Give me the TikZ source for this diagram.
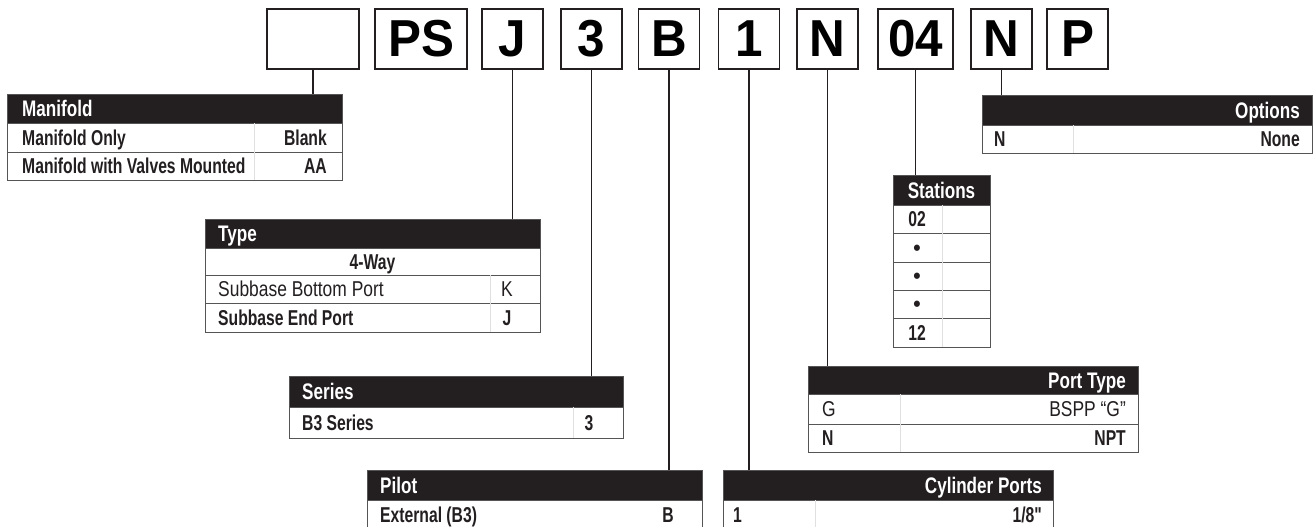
\documentclass[tikz,border=0pt]{standalone}
\usepackage{fontspec}
\setmainfont{Liberation Sans}
\newfontfamily\cnd{Liberation Sans}[FakeStretch=0.73]
\newfontfamily\cndh{Liberation Sans}[FakeStretch=0.76]
\newfontfamily\cndr{Liberation Sans}[FakeStretch=0.81]
\newfontfamily\bigf{Liberation Sans}[FakeStretch=0.95]
\definecolor{hdrblack}{HTML}{231F20}
\definecolor{rulegray}{HTML}{555555}
\begin{document}
\begin{tikzpicture}[x=1pt,y=-1pt,
  topbox/.style={draw=hdrblack, line width=1.3pt, minimum height=60pt, inner sep=0pt, font=\bigf\bfseries\fontsize{52}{52}\selectfont},
  stem/.style={line width=1.5pt, draw=hdrblack},
  cellbox/.style={draw=rulegray, line width=0.9pt, fill=white, anchor=north west, inner sep=0pt},
  hdrbox/.style={fill=hdrblack, draw=rulegray, line width=0.9pt, anchor=north west, inner sep=0pt},
  txt/.style={inner sep=0pt, text=hdrblack, font=\cnd\bfseries\fontsize{21.5}{21.5}\selectfont},
  rtxt/.style={inner sep=0pt, text=hdrblack, font=\cndr\fontsize{21.5}{21.5}\selectfont},
  htxt/.style={inner sep=0pt, text=white, font=\cndh\bfseries\fontsize{22.5}{22.5}\selectfont},
  dottxt/.style={inner sep=0pt, text=hdrblack, font=\bigf\bfseries\fontsize{22}{22}\selectfont},
  divline/.style={draw=black!12, line width=0.6pt}
]
\useasboundingbox (0,0) rectangle (1315,527);
\clip (0,0) rectangle (1315,527);

% ---------- top code boxes ----------
\node[topbox, minimum width=92pt] (b0) at (313,39) {};
\node[topbox, minimum width=92pt] (bPS) at (421,39) {PS};
\node[topbox, minimum width=61pt] (bJ) at (512.5,39) {J};
\node[topbox, minimum width=61pt] (b3) at (591.5,39) {3};
\node[topbox, minimum width=61pt] (bB) at (669,39) {B};
\node[topbox, minimum width=61pt] (b1) at (749,39) {1};
\node[topbox, minimum width=61pt] (bN) at (827.5,39) {N};
\node[topbox, minimum width=75pt] (b04) at (915.5,39) {04};
\node[topbox, minimum width=61pt] (bN2) at (1001.5,39) {N};
\node[topbox, minimum width=61pt] (bP) at (1077.5,39) {P};

% ---------- Manifold ----------
\node[cellbox, minimum width=335pt, minimum height=29pt] (m1) at (7,123) {};
\node[cellbox, minimum width=335pt, minimum height=28pt] (m2) at (7,152) {};
\node[hdrbox, minimum width=335pt, minimum height=29pt] (mh) at (7,94) {};
\draw[divline] (254,123) -- (254,180);
\node[htxt, anchor=base west] (mht) at (22,116.5) {Manifold};
\node[txt, anchor=base west] (m1a) at (22,145.2) {Manifold Only};
\node[txt, anchor=base east] (m1b) at (327,145.2) {Blank};
\node[txt, anchor=base west] (m2a) at (22,173.7) {Manifold with Valves Mounted};
\node[txt, anchor=base east] (m2b) at (327,173.7) {AA};

% ---------- Options ----------
\node[cellbox, minimum width=330pt, minimum height=28pt] (o1) at (982,125) {};
\node[hdrbox, minimum width=330pt, minimum height=30pt] (oh) at (982,95) {};
\draw[divline] (1073,125) -- (1073,153);
\node[htxt, anchor=base east] (oht) at (1300,118) {Options};
\node[txt, anchor=base west] (o1a) at (994,146.7) {N};
\node[txt, anchor=base east] (o1b) at (1300,146.7) {None};

% ---------- Stations ----------
\node[cellbox, minimum width=97pt, minimum height=28pt] (s1) at (893,205) {};
\node[cellbox, minimum width=97pt, minimum height=29pt] (s2) at (893,233) {};
\node[cellbox, minimum width=97pt, minimum height=28pt] (s3) at (893,262) {};
\node[cellbox, minimum width=97pt, minimum height=28pt] (s4) at (893,290) {};
\node[cellbox, minimum width=97pt, minimum height=29pt] (s5) at (893,318) {};
\node[hdrbox, minimum width=97pt, minimum height=30pt] (sh) at (893,175) {};
\draw[divline] (942,205) -- (942,347);
\node[htxt, anchor=base] (sht) at (941.5,198) {Stations};
\node[txt, anchor=base] (s1t) at (917,226.7) {02};
\node[dottxt, anchor=base] (s2t) at (917,255.2) {•};
\node[dottxt, anchor=base] (s3t) at (917,283.7) {•};
\node[dottxt, anchor=base] (s4t) at (917,311.7) {•};
\node[txt, anchor=base] (s5t) at (917,340.2) {12};

% ---------- Type ----------
\node[cellbox, minimum width=335pt, minimum height=27pt] (t1) at (205,248) {};
\node[cellbox, minimum width=335pt, minimum height=28pt] (t2) at (205,275) {};
\node[cellbox, minimum width=335pt, minimum height=29pt] (t3) at (205,303) {};
\node[hdrbox, minimum width=335pt, minimum height=29pt] (th) at (205,219) {};
\draw[divline] (490,275) -- (490,332);
\node[htxt, anchor=base west] (tht) at (218,241.5) {Type};
\node[txt, anchor=base] (t1t) at (372.5,269.2) {4-Way};
\node[rtxt, anchor=base west] (t2a) at (218,296.7) {Subbase Bottom Port};
\node[rtxt, anchor=base] (t2b) at (507,296.7) {K};
\node[txt, anchor=base west] (t3a) at (218,325.2) {Subbase End Port};
\node[txt, anchor=base] (t3b) at (507,325.2) {J};

% ---------- Port Type ----------
\node[cellbox, minimum width=330pt, minimum height=30pt] (p1) at (808,394) {};
\node[cellbox, minimum width=330pt, minimum height=28pt] (p2) at (808,424) {};
\node[hdrbox, minimum width=330pt, minimum height=28pt] (ph) at (808,366) {};
\draw[divline] (900,394) -- (900,452);
\node[htxt, anchor=base east] (pht) at (1126,388) {Port Type};
\node[rtxt, anchor=base west] (p1a) at (822,416.7) {G};
\node[rtxt, anchor=base east] (p1b) at (1126,416.7) {BSPP “G”};
\node[txt, anchor=base west] (p2a) at (822,445.7) {N};
\node[txt, anchor=base east] (p2b) at (1126,445.7) {NPT};

% ---------- Series ----------
\node[cellbox, minimum width=334pt, minimum height=31pt] (r1) at (289,407) {};
\node[hdrbox, minimum width=334pt, minimum height=31pt] (rh) at (289,376) {};
\draw[divline] (573,407) -- (573,438);
\node[htxt, anchor=base west] (rht) at (302,399.5) {Series};
\node[txt, anchor=base west] (r1a) at (302,430.2) {B3 Series};
\node[txt, anchor=base] (r1b) at (589,430.2) {3};

% ---------- Pilot ----------
\node[cellbox, minimum width=335pt, minimum height=32pt] (l1) at (367,500) {};
\node[hdrbox, minimum width=335pt, minimum height=30pt] (lh) at (367,470) {};
\node[htxt, anchor=base west] (lht) at (380,493) {Pilot};
\node[txt, anchor=base west] (l1a) at (380,522.5) {External (B3)};
\node[txt, anchor=base] (l1b) at (668,522.5) {B};

% ---------- Cylinder Ports ----------
\node[cellbox, minimum width=330pt, minimum height=32pt] (c1) at (723,500) {};
\node[hdrbox, minimum width=330pt, minimum height=30pt] (ch) at (723,470) {};
\draw[divline] (815,500) -- (815,530);
\node[htxt, anchor=base east] (cht) at (1042,493) {Cylinder Ports};
\node[txt, anchor=base west] (c1a) at (733,522.5) {1};
\node[txt, anchor=base east] (c1b) at (1042,522.5) {1/8"};

% ---------- stems ----------
\draw[stem] (b0.south) -- (b0.south |- mh.north);
\draw[stem] (bJ.south) -- (bJ.south |- th.north);
\draw[stem] (b3.south) -- (b3.south |- rh.north);
\draw[stem] (bB.south) -- (bB.south |- lh.north);
\draw[stem] (b1.south) -- (b1.south |- ch.north);
\draw[stem] (bN.south) -- (bN.south |- ph.north);
\draw[stem] (b04.south) -- (b04.south |- sh.north);
\draw[stem] (bN2.south) -- (bN2.south |- oh.north);
\end{tikzpicture}
\end{document}
